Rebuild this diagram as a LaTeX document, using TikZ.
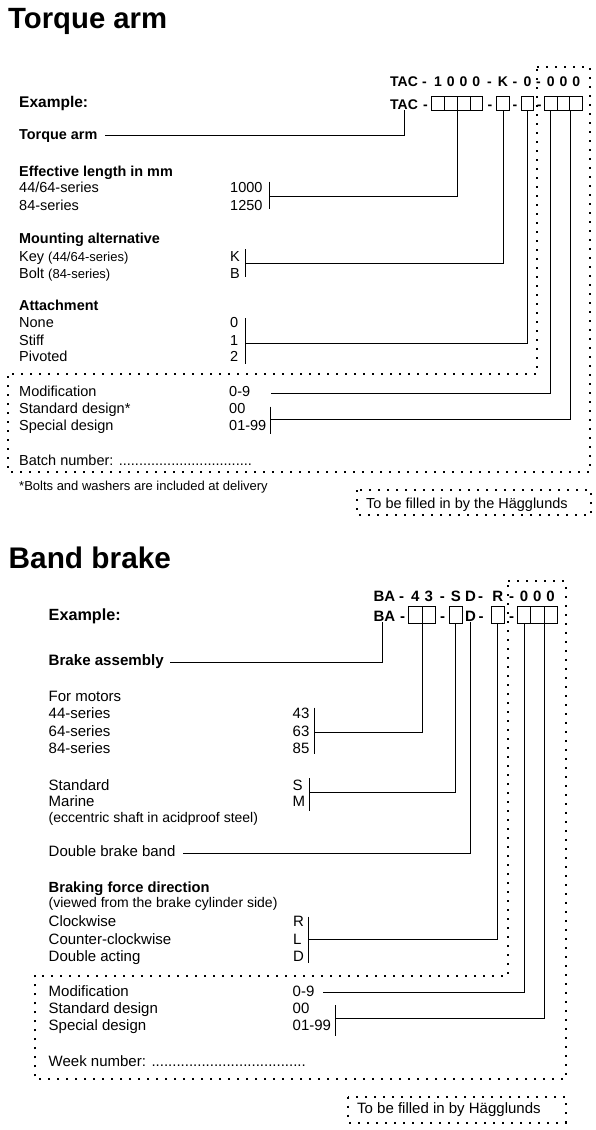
\documentclass[tikz,border=0pt]{standalone}
\usepackage{fontspec}
\setmainfont{Liberation Sans}
\newcommand\fTitleA{\fontsize{29.3}{34}\selectfont\bfseries}
\newcommand\fTitleB{\fontsize{29.8}{34}\selectfont\bfseries}
\newcommand\fRegA{\fontsize{14.5}{17}\selectfont}
\newcommand\fBoldA{\fontsize{14.4}{17}\selectfont\bfseries}
\newcommand\fExA{\fontsize{15.5}{17}\selectfont\bfseries}
\newcommand\fSmallA{\fontsize{13}{15}\selectfont}
\newcommand\fRegB{\fontsize{15}{18}\selectfont}
\newcommand\fBoldB{\fontsize{14.7}{18}\selectfont\bfseries}
\newcommand\fExB{\fontsize{16.2}{18}\selectfont\bfseries}
\newcommand\fSmallB{\fontsize{14}{16}\selectfont}
\newcommand\fCodeA{\fontsize{14}{17}\selectfont\bfseries}
\newcommand\fCodeB{\fontsize{15}{18}\selectfont\bfseries}
\tikzset{
  ttlA/.style={anchor=base west, inner sep=0pt, font=\fTitleA},
  ttlB/.style={anchor=base west, inner sep=0pt, font=\fTitleB},
  lA/.style={anchor=base west, inner sep=0pt, font=\fRegA},
  hA/.style={anchor=base west, inner sep=0pt, font=\fBoldA},
  sA/.style={anchor=base west, inner sep=0pt, font=\fSmallA},
  lB/.style={anchor=base west, inner sep=0pt, font=\fRegB},
  hB/.style={anchor=base west, inner sep=0pt, font=\fBoldB},
  sB/.style={anchor=base west, inner sep=0pt, font=\fSmallB},
  cA/.style={anchor=base, inner sep=0pt, font=\fCodeA},
  cB/.style={anchor=base, inner sep=0pt, font=\fCodeB},
  boxA/.style={draw, line width=0.9pt, minimum width=12.75pt, minimum height=14pt, inner sep=0pt},
  boxB/.style={draw, line width=0.9pt, minimum width=13.5pt, minimum height=16.5pt, inner sep=0pt},
  conn/.style={line width=0.9pt},
  dotline/.style={line width=2pt, dash pattern=on 2pt off 7pt},
}
\begin{document}
\begin{tikzpicture}[x=1pt,y=-1pt]
\useasboundingbox (0,0) rectangle (596,1130);

% ================= Torque arm =================
\node[ttlA] (title1) at (8,28.3) {Torque arm};

% code line 1
\node[cA, anchor=base west] (tac1) at (390,86) {TAC};
\node[cA] (d11) at (424.5,86) {-};
\node[cA] (n11) at (438.1,86) {1};
\node[cA] (n12) at (450.85,86) {0};
\node[cA] (n13) at (463.6,86) {0};
\node[cA] (n14) at (476.35,86) {0};
\node[cA] (d12) at (489.5,86) {-};
\node[cA] (n15) at (503,86) {K};
\node[cA] (d13) at (515,86) {-};
\node[cA] (n16) at (527.5,86) {0};
\node[cA] (d14) at (538.5,86) {-};
\node[cA] (n17) at (550.7,86) {0};
\node[cA] (n18) at (563.5,86) {0};
\node[cA] (n19) at (576.3,86) {0};

% code line 2
\node[cA, anchor=base west] (tac2) at (390,109.3) {TAC};
\node[cA] (d21) at (425.5,109.3) {-};
\node[boxA] (g1a) at (438.1,103) {};
\node[boxA] (g1b) at (450.85,103) {};
\node[boxA] (g1c) at (463.6,103) {};
\node[boxA] (g1d) at (476.35,103) {};
\node[cA] (d22) at (490,109.3) {-};
\node[boxA] (bK) at (503,103) {};
\node[cA] (d23) at (515,109.3) {-};
\node[boxA] (bZ) at (527.5,103) {};
\node[cA] (d24) at (539.3,109.3) {-};
\node[boxA] (g4a) at (550.7,103) {};
\node[boxA] (g4b) at (563.5,103) {};
\node[boxA] (g4c) at (576.3,103) {};

% labels
\node[hA, font=\fExA] (ex1) at (19,107.5) {Example:};
\node[hA] (ta1) at (19,139) {Torque arm};
\node[hA] (el1) at (19,176) {Effective length in mm};
\node[lA] (el2) at (19,192.5) {44/64-series};
\node[lA] (el3) at (19,210) {84-series};
\node[lA] (v1000) at (230,192.5) {1000};
\node[lA] (v1250) at (230,210) {1250};
\node[hA] (ma1) at (19,243.6) {Mounting alternative};
\node[lA] (ma2) at (19,261) {Key {\fSmallA(44/64-series)}};
\node[lA] (ma3) at (19,278) {Bolt {\fSmallA(84-series)}};
\node[lA] (vK) at (230,261) {K};
\node[lA] (vB) at (230,278) {B};
\node[hA] (at1) at (19,310.7) {Attachment};
\node[lA] (at2) at (19,327.5) {None};
\node[lA] (at3) at (19,345) {Stiff};
\node[lA] (at4) at (19,361.7) {Pivoted};
\node[lA] (v0) at (230,327.5) {0};
\node[lA] (v1) at (230,345) {1};
\node[lA] (v2) at (230,361.7) {2};
\node[lA] (mo1) at (19,396.5) {Modification};
\node[lA] (mo2) at (19,413.5) {Standard design*};
\node[lA] (mo3) at (19,430.5) {Special design};
\node[lA] (v09) at (229,396.5) {0-9};
\node[lA] (v00) at (229,413.5) {00};
\node[lA] (v0199) at (229,430.5) {01-99};
\node[lA] (batch) at (19,465) {Batch number: .................................};
\node[sA] (foot) at (19,490) {*Bolts and washers are included at delivery};
\node[lA] (tbf1t) at (366,508) {To be filled in by the Hägglunds};
\draw[dotline] (357,490) rectangle (591,515);

% dotted region
\draw[dotline] (537.3,66.7) -- (590,66.7) -- (590,471.7) -- (7.5,471.7) -- (7.5,373.5) -- (537.3,373.5) -- cycle;

% brackets
\coordinate (br1t) at (269.5,181.7); \coordinate (br1b) at (269.5,209.3); \coordinate (br1m) at (269.5,196.7);
\coordinate (br2t) at (245.5,249.3); \coordinate (br2b) at (245.5,276.7); \coordinate (br2m) at (245.5,263.3);
\coordinate (br3t) at (245.5,318.3); \coordinate (br3b) at (245.5,364.3); \coordinate (br3m) at (245.5,343.3);
\coordinate (m1end) at (271,393);
\coordinate (br5t) at (270,406.7); \coordinate (br5b) at (270,434); \coordinate (br5m) at (270,419.3);
\coordinate (taend) at (105,135);
\draw[conn] (br1t) -- (br1b);
\draw[conn] (br2t) -- (br2b);
\draw[conn] (br3t) -- (br3b);
\draw[conn] (br5t) -- (br5b);

% connectors
\draw[conn] (taend) -| (tac2.south);
\draw[conn] (g1b.south east) |- (br1m);
\draw[conn] (bK.south) |- (br2m);
\draw[conn] (bZ.south) |- (br3m);
\draw[conn] (g4a.south) |- (m1end);
\draw[conn] (g4b.south east) |- (br5m);

% ================= Band brake =================
\node[ttlB] (title2) at (8.5,568.3) {Band brake};

% code line 1
\node[cB, anchor=base west] (ba1) at (373.3,601.7) {BA};
\node[cB] (e11) at (401.7,601.7) {-};
\node[cB] (m11) at (415.2,601.7) {4};
\node[cB] (m12) at (428.9,601.7) {3};
\node[cB] (e12) at (442.3,601.7) {-};
\node[cB] (m13) at (455.8,601.7) {S};
\node[cB] (m14) at (470.5,601.7) {D};
\node[cB] (e13) at (480.5,601.7) {-};
\node[cB] (m15) at (497.9,601.7) {R};
\node[cB] (e14) at (511.7,601.7) {-};
\node[cB] (m16) at (524,601.7) {0};
\node[cB] (m17) at (537.3,601.7) {0};
\node[cB] (m18) at (550.6,601.7) {0};

% code line 2
\node[cB, anchor=base west] (ba2) at (373.3,621.5) {BA};
\node[cB] (e21) at (402.7,621.5) {-};
\node[boxB, minimum width=13.7pt] (h1a) at (415.2,615) {};
\node[boxB, minimum width=13.7pt] (h1b) at (428.9,615) {};
\node[cB] (e22) at (442.7,621.5) {-};
\node[boxB, minimum width=13pt] (bS) at (455.8,615) {};
\node[cB] (bD) at (470.5,621.5) {D};
\node[cB] (e23) at (481,621.5) {-};
\node[boxB, minimum width=12.5pt] (bR) at (497.9,615) {};
\node[cB] (e24) at (511.7,621.5) {-};
\node[boxB, minimum width=13.3pt] (h4a) at (524,615) {};
\node[boxB, minimum width=13.3pt] (h4b) at (537.3,615) {};
\node[boxB, minimum width=13.3pt] (h4c) at (550.6,615) {};

% labels
\node[hB, font=\fExB] (ex2) at (48.5,620.5) {Example:};
\node[hB, font=\fontsize{15.1}{18}\selectfont\bfseries] (bas) at (48.5,665.5) {Brake assembly};
\node[lB] (fm1) at (48.5,701.7) {For motors};
\node[lB] (fm2) at (48.5,718.3) {44-series};
\node[lB] (fm3) at (48.5,736) {64-series};
\node[lB] (fm4) at (48.5,753.5) {84-series};
\node[lB] (v43) at (292.5,718.3) {43};
\node[lB] (v63) at (292.5,736) {63};
\node[lB] (v85) at (292.5,753.5) {85};
\node[lB] (sd1) at (48.5,790) {Standard};
\node[lB] (sd2) at (48.5,806.7) {Marine};
\node[sB] (sd3) at (48.5,822) {(eccentric shaft in acidproof steel)};
\node[lB] (vS) at (292.5,790) {S};
\node[lB] (vM) at (292.5,806.7) {M};
\node[lB] (dbb) at (48.5,856.7) {Double brake band};
\node[hB] (bf1) at (48.5,892.5) {Braking force direction};
\node[sB] (bf2) at (48.5,907.5) {(viewed from the brake cylinder side)};
\node[lB] (bf3) at (48.5,926.7) {Clockwise};
\node[lB] (bf4) at (48.5,944) {Counter-clockwise};
\node[lB] (bf5) at (48.5,961.7) {Double acting};
\node[lB] (vR) at (293,926.7) {R};
\node[lB] (vL) at (293,944) {L};
\node[lB] (vD) at (293,961.7) {D};
\node[lB] (mb1) at (48.5,996.7) {Modification};
\node[lB] (mb2) at (48.5,1013.5) {Standard design};
\node[lB] (mb3) at (48.5,1030.5) {Special design};
\node[lB] (w09) at (292.5,996.7) {0-9};
\node[lB] (w00) at (292.5,1013.5) {00};
\node[lB] (w0199) at (292.5,1030.5) {01-99};
\node[lB] (week) at (48.5,1066.7) {Week number: .....................................};
\node[lB] (tbf2t) at (357,1113) {To be filled in by Hägglunds};
\draw[dotline] (348,1096.7) rectangle (565.5,1122.7);

% dotted region
\draw[dotline] (508.3,581) -- (565.5,581) -- (565.5,1079.3) -- (35,1079.3) -- (35,975.5) -- (508.3,975.5) -- cycle;

% brackets
\coordinate (bq1t) at (314,707.7); \coordinate (bq1b) at (314,754.3); \coordinate (bq1m) at (314,732);
\coordinate (bq2t) at (309.3,778); \coordinate (bq2b) at (309.3,810.7); \coordinate (bq2m) at (309.3,792.3);
\coordinate (bq3t) at (308.3,916.7); \coordinate (bq3b) at (308.3,963.3); \coordinate (bq3m) at (308.3,939.3);
\coordinate (bq4t) at (335,1005); \coordinate (bq4b) at (335,1036); \coordinate (bq4m) at (335,1018.3);
\coordinate (baend) at (170,662.7);
\coordinate (dbend) at (183.3,853.3);
\coordinate (m2end) at (322.5,992.3);
\draw[conn] (bq1t) -- (bq1b);
\draw[conn] (bq2t) -- (bq2b);
\draw[conn] (bq3t) -- (bq3b);
\draw[conn] (bq4t) -- (bq4b);

% connectors
\draw[conn] (baend) -| ([xshift=-2pt]ba2.south);
\draw[conn] (h1a.south east) |- (bq1m);
\draw[conn] (bS.south) |- (bq2m);
\draw[conn] (bD.south) |- (dbend);
\draw[conn] (bR.south) |- (bq3m);
\draw[conn] (h4a.south) |- (m2end);
\draw[conn] (h4b.south east) |- (bq4m);
\end{tikzpicture}
\end{document}
